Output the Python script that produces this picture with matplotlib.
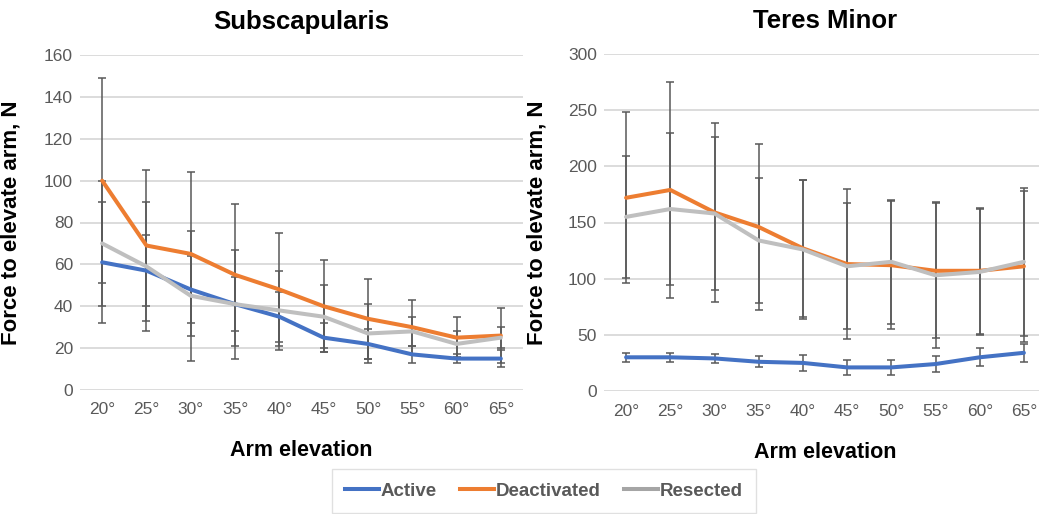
import matplotlib
matplotlib.use("Agg")
import numpy as np
import matplotlib.pyplot as plt
from matplotlib.lines import Line2D

plt.rcParams['font.family'] = ['Liberation Sans', 'DejaVu Sans']

# x categories
angles = ['20°', '25°', '30°', '35°', '40°', '45°', '50°', '55°', '60°', '65°']

# Subscapularis - means and SDs
sub_active = [61, 57, 48, 41, 35, 25, 22, 17, 15, 15]
sub_active_sd = [29, 17, 16, 13, 12, 7, 7, 4, 2, 4]
sub_deact = [100, 69, 65, 55, 48, 40, 34, 30, 25, 26]
sub_deact_sd = [49, 36, 39, 34, 27, 22, 19, 13, 10, 13]
sub_resect = [70, 59, 45, 41, 38, 35, 27, 28, 22, 25]
sub_resect_sd = [30, 31, 31, 26, 19, 15, 14, 7, 6, 5]

# Teres minor - means and SDs
tm_active = [30, 30, 29, 26, 25, 21, 21, 24, 30, 34]
tm_active_sd = [4, 4, 4, 5, 7, 7, 7, 7, 8, 8]
tm_deact = [172, 179, 159, 146, 127, 113, 112, 107, 107, 111]
tm_deact_sd = [76, 96, 80, 74, 61, 67, 57, 60, 56, 67]
tm_resect = [155, 162, 158, 134, 126, 111, 115, 103, 106, 115]
tm_resect_sd = [54, 68, 68, 56, 62, 56, 55, 65, 56, 66]

c_active = '#4472C4'
c_deact = '#ED7D31'
c_resect = '#BFBFBF'
txt = '#595959'

fig = plt.figure(figsize=(10.39, 5.14), dpi=100)
ax1 = fig.add_axes([80/1039, 1-390/514, 443/1039, 335/514])
ax2 = fig.add_axes([604/1039, 1-391/514, 442/1039, 337/514])

x = np.arange(len(angles))

def draw(ax, title, series, ymax, step):
    for vals, sd, col in series:
        ax.errorbar(x, vals, yerr=sd, fmt='none', ecolor=txt, elinewidth=1.1,
                    capsize=3, capthick=1.1, zorder=2)
    for vals, sd, col in series:
        ax.plot(x, vals, color=col, lw=2.9, zorder=3, solid_capstyle='round')
    ax.set_xlim(-0.5, len(angles) - 0.5)
    ax.set_ylim(0, ymax)
    ax.set_yticks(np.arange(0, ymax + 1, step))
    ax.set_xticks(x)
    ax.set_xticklabels(angles)
    ax.grid(axis='y', color='#D9D9D9', lw=1.3, zorder=0)
    ax.set_axisbelow(True)
    for s in ax.spines.values():
        s.set_visible(False)
    ax.tick_params(axis='both', length=0, labelsize=12.5, colors=txt)
    ax.tick_params(axis='x', pad=9)
    ax.tick_params(axis='y', pad=5)
    ax.set_xlabel('Arm elevation', fontsize=15.5, fontweight='bold', color='black')
    ax.xaxis.set_label_coords(0.5, -0.15)
    ax.set_ylabel('Force to elevate arm, N', fontsize=16, fontweight='bold', color='black')
    ax.text(0.5, 1.098, title, transform=ax.transAxes, ha='center', va='center',
            fontsize=18.5, fontweight='bold')

draw(ax1, 'Subscapularis', [(sub_active, sub_active_sd, c_active),
                            (sub_deact, sub_deact_sd, c_deact),
                            (sub_resect, sub_resect_sd, c_resect)], 160, 20)
ax1.yaxis.set_label_coords(-0.131, 0.5)

draw(ax2, 'Teres Minor', [(tm_active, tm_active_sd, c_active),
                          (tm_deact, tm_deact_sd, c_deact),
                          (tm_resect, tm_resect_sd, c_resect)], 300, 50)
ax2.yaxis.set_label_coords(-0.127, 0.5)

handles = [Line2D([], [], color=c_active, lw=2.9),
           Line2D([], [], color=c_deact, lw=2.9),
           Line2D([], [], color='#A5A5A5', lw=2.9)]
leg = fig.legend(handles, ['Active', 'Deactivated', 'Resected'], loc='center',
                 bbox_to_anchor=(544/1039, 1-491/514), ncol=3, fancybox=False,
                 edgecolor='#D9D9D9', handlelength=1.8, handletextpad=0.1,
                 columnspacing=1.25, borderpad=0.7,
                 prop={'size': 13.5, 'weight': 'bold'})
for t in leg.get_texts():
    t.set_color(txt)

fig.savefig('out.png', dpi=100)
